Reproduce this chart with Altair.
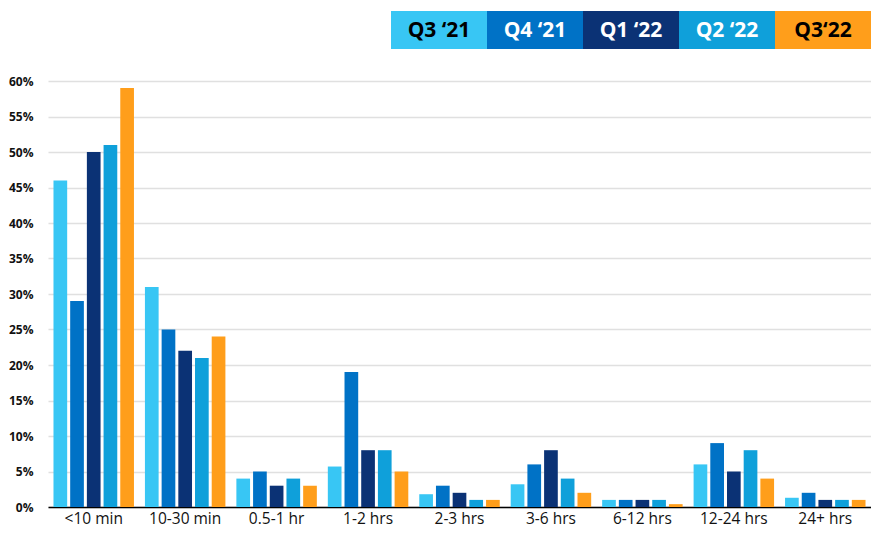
import altair as alt
import pandas as pd

categories = ["<10 min", "10-30 min", "0.5-1 hr", "1-2 hrs", "2-3 hrs",
              "3-6 hrs", "6-12 hrs", "12-24 hrs", "24+ hrs"]
quarters = ["Q3 \u201821", "Q4 \u201821", "Q1 \u201822", "Q2 \u201822", "Q3\u201822"]
q3_21 = [46, 31, 4, 5.7, 1.8, 3.2, 1, 6, 1.3]
q4_21 = [29, 25, 5, 19, 3, 6, 1, 9, 2]
q1_22 = [50, 22, 3, 8, 2, 8, 1, 5, 1]
q2_22 = [51, 21, 4, 8, 1, 4, 1, 8, 1]
q3_22 = [59, 24, 3, 5, 1, 2, 0.4, 4, 1]
series = [q3_21, q4_21, q1_22, q2_22, q3_22]
colors = ["#38C6F4", "#0072C6", "#0B3275", "#0FA0DA", "#FF9E1B"]
text_colors = ["#000000", "#ffffff", "#ffffff", "#ffffff", "#000000"]
y_ticks = [0, 5, 10, 15, 20, 25, 30, 35, 40, 45, 50, 55, 60]

rows = []
for q, vals in zip(quarters, series):
    for c, v in zip(categories, vals):
        rows.append({"category": c, "quarter": q, "value": v})
df = pd.DataFrame(rows)
ldf = pd.DataFrame({"quarter": quarters, "tcolor": text_colors})

FONT = "Open Sans"
color_scale = alt.Scale(domain=quarters, range=colors)

bars = alt.Chart(df).mark_bar().encode(
    x=alt.X("category:N", sort=categories,
            scale=alt.Scale(paddingInner=0.12, paddingOuter=0.06),
            axis=alt.Axis(title=None, labelAngle=0, labelFont=FONT, labelFontSize=15.5,
                          labelColor="#111111", domainColor="#000000", domainWidth=1.5,
                          ticks=False, labelPadding=4, grid=False)),
    xOffset=alt.XOffset("quarter:N", sort=quarters, scale=alt.Scale(paddingInner=0.18)),
    y=alt.Y("value:Q", scale=alt.Scale(domain=[0, 60], nice=False),
            axis=alt.Axis(values=y_ticks, labelExpr="datum.value + '%'", title=None,
                          domain=False, ticks=False, gridColor="#e0e0e0", gridWidth=1.5,
                          labelFont=FONT, labelFontWeight="bold", labelFontSize=12,
                          labelColor="#111111", labelPadding=15)),
    color=alt.Color("quarter:N", sort=quarters, scale=color_scale, legend=None),
).properties(width=823, height=426)

leg_base = alt.Chart(ldf)
leg_rect = leg_base.mark_rect().encode(
    x=alt.X("quarter:N", sort=quarters, axis=None,
            scale=alt.Scale(paddingInner=0, paddingOuter=0)),
    color=alt.Color("quarter:N", sort=quarters, scale=color_scale, legend=None),
)
leg_text = leg_base.mark_text(font=FONT, fontWeight="bold", fontSize=21,
                              baseline="middle").encode(
    x=alt.X("quarter:N", sort=quarters, axis=None,
            scale=alt.Scale(paddingInner=0, paddingOuter=0)),
    y=alt.value(19.5),
    text="quarter:N",
    color=alt.Color("tcolor:N", scale=None),
)
legend = alt.layer(leg_rect, leg_text).properties(width=480, height=38)

spacer = alt.Chart(ldf).mark_point(opacity=0).encode(
    x=alt.value(0), y=alt.value(0)
).properties(width=343, height=38)

top = alt.hconcat(spacer, legend, spacing=0)

chart = alt.vconcat(top, bars, spacing=26).properties(
    padding=0, background="#ffffff"
).configure_view(stroke=None)

chart.save("out.html", embed_options={"renderer": "svg", "actions": False})
